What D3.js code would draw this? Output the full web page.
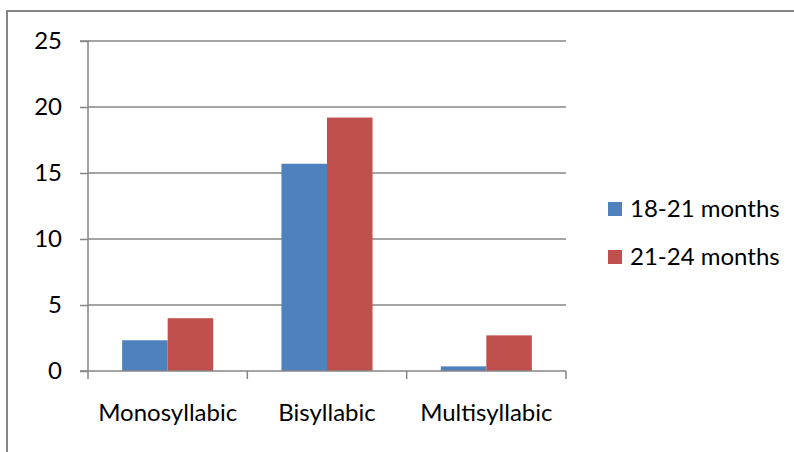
<!DOCTYPE html>
<html>
<head>
<meta charset="utf-8">
<script src="https://cdn.jsdelivr.net/npm/d3@7"></script>
<style>
  html, body { margin: 0; padding: 0; background: #fff; }
  svg text { font-family: Lato, "Open Sans", sans-serif; fill: #000; }
</style>
</head>
<body>
<svg id="chart" width="794" height="452"></svg>
<script>
// Syllable structure of words produced, by age group
const categories = ["Monosyllabic", "Bisyllabic", "Multisyllabic"];
const seriesNames = ["18-21 months", "21-24 months"];
const values1821 = [2.33, 15.7, 0.35];
const values2124 = [4.0, 19.2, 2.7];
const yTicks = [0, 5, 10, 15, 20, 25];
const colors = ["#4F81BD", "#C0504D"];

const series = [values1821, values2124];
const svg = d3.select("#chart");
const grey = "#868686";
const fontSize = 24;

// Outer frame
svg.append("rect")
  .attr("x", 7).attr("y", 11)
  .attr("width", 800).attr("height", 460)
  .attr("fill", "none").attr("stroke", grey).attr("stroke-width", 2);

const plot = { left: 88, right: 566, top: 41, bottom: 371 };

const x = d3.scaleBand().domain(categories).range([plot.left, plot.right]).padding(0);
const y = d3.scaleLinear().domain([0, 25]).range([plot.bottom, plot.top]);
// Two bars per category, 150% gap width on the outside
const inner = d3.scaleBand().domain(d3.range(series.length))
  .range([0, x.bandwidth()]).paddingOuter(0.75).paddingInner(0);

// Horizontal gridlines
svg.append("g").selectAll("line").data(yTicks.filter(d => d > 0)).join("line")
  .attr("x1", plot.left).attr("x2", plot.right)
  .attr("y1", d => y(d)).attr("y2", d => y(d))
  .attr("stroke", grey).attr("stroke-width", 1.5);

// Bars
const groups = svg.append("g").selectAll("g").data(series).join("g")
  .attr("fill", (d, i) => colors[i]);
groups.selectAll("rect").data((d, i) => d.map((v, j) => ({ v, j, i }))).join("rect")
  .attr("x", d => x(categories[d.j]) + inner(d.i))
  .attr("width", inner.bandwidth())
  .attr("y", d => y(d.v))
  .attr("height", d => y(0) - y(d.v));

// Y axis
const yAxis = svg.append("g").attr("transform", `translate(${plot.left},0)`)
  .call(d3.axisLeft(y).tickValues(yTicks).tickSize(8).tickPadding(18).tickFormat(d3.format("d")));
yAxis.select(".domain").attr("stroke", grey).attr("stroke-width", 1.5).attr("d", `M-8,${plot.top}H0V${plot.bottom}H-8`);
yAxis.selectAll(".tick line").attr("stroke", grey).attr("stroke-width", 1.5);
yAxis.selectAll(".tick text").attr("font-size", fontSize).attr("font-family", "Lato, sans-serif").attr("fill", "#000");

// X axis with boundary ticks between categories
const xAxisG = svg.append("g");
xAxisG.append("line")
  .attr("x1", plot.left).attr("x2", plot.right)
  .attr("y1", plot.bottom).attr("y2", plot.bottom)
  .attr("stroke", grey).attr("stroke-width", 1.5);
const bounds = categories.map(c => x(c)).concat([x(categories[categories.length - 1]) + x.bandwidth()]);
xAxisG.selectAll("line.tk").data(bounds).join("line").attr("class", "tk")
  .attr("x1", d => d).attr("x2", d => d)
  .attr("y1", plot.bottom).attr("y2", plot.bottom + 8)
  .attr("stroke", grey).attr("stroke-width", 1.5);
xAxisG.selectAll("text").data(categories).join("text")
  .attr("x", d => x(d) + x.bandwidth() / 2)
  .attr("y", 421)
  .attr("text-anchor", "middle")
  .attr("font-size", fontSize)
  .text(d => d);

// Legend
const legend = svg.append("g").selectAll("g").data(seriesNames).join("g")
  .attr("transform", (d, i) => `translate(608,${202 + i * 48})`);
legend.append("rect").attr("width", 14).attr("height", 14).attr("fill", (d, i) => colors[i]);
legend.append("text").attr("x", 22).attr("y", 15).attr("font-size", fontSize).text(d => d);
</script>
</body>
</html>
